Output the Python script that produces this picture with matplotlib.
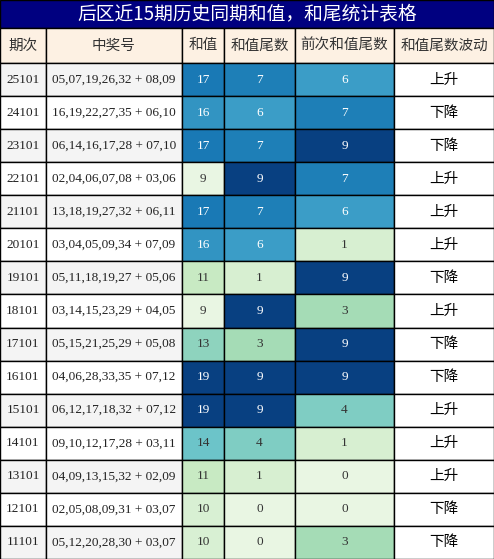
import matplotlib.pyplot as plt
from matplotlib.patches import Rectangle
from matplotlib import cm

periods = ["25101", "24101", "23101", "22101", "21101", "20101", "19101", "18101",
           "17101", "16101", "15101", "14101", "13101", "12101", "11101"]
numbers = ["05,07,19,26,32 + 08,09", "16,19,22,27,35 + 06,10", "06,14,16,17,28 + 07,10",
           "02,04,06,07,08 + 03,06", "13,18,19,27,32 + 06,11", "03,04,05,09,34 + 07,09",
           "05,11,18,19,27 + 05,06", "03,14,15,23,29 + 04,05", "05,15,21,25,29 + 05,08",
           "04,06,28,33,35 + 07,12", "06,12,17,18,32 + 07,12", "09,10,12,17,28 + 03,11",
           "04,09,13,15,32 + 02,09", "02,05,08,09,31 + 03,07", "05,12,20,28,30 + 03,07"]
sums = [17, 16, 17, 9, 17, 16, 11, 9, 13, 19, 19, 14, 11, 10, 10]
tails = [7, 6, 7, 9, 7, 6, 1, 9, 3, 9, 9, 4, 1, 0, 0]
prev_tails = [6, 7, 9, 7, 6, 1, 9, 3, 9, 9, 4, 1, 0, 0, 3]
trend = ["上升", "下降", "下降", "上升", "上升", "上升", "下降", "上升",
         "下降", "下降", "上升", "上升", "上升", "下降", "下降"]
headers = ["期次", "中奖号", "和值", "和值尾数", "前次和值尾数", "和值尾数波动"]
title = "后区近15期历史同期和值，和尾统计表格"

W, H = 494, 559
col_x = [0, 46, 182, 224, 295, 394, 494]
title_h, head_h = 28, 35
row_h = (H - title_h - head_h) / len(periods)

cjk = ["Noto Sans CJK SC", "DejaVu Sans"]
serif = ["Liberation Serif", "DejaVu Serif"]
cmap = cm.get_cmap("GnBu")

fig = plt.figure(figsize=(W / 100, H / 100), dpi=100)
ax = fig.add_axes([0, 0, 1, 1])
ax.set_xlim(0, W)
ax.set_ylim(H, 0)
ax.axis("off")

ax.add_patch(Rectangle((0, 0), W, title_h, facecolor="#000080", edgecolor="black", lw=1))
ax.text(W / 2, title_h / 2, title, color="white", fontsize=13.5, family=cjk,
        ha="center", va="center")

for i, h in enumerate(headers):
    x0, x1 = col_x[i], col_x[i + 1]
    ax.add_patch(Rectangle((x0, title_h), x1 - x0, head_h, facecolor="#fdf1e3",
                           edgecolor="black", lw=1))
    ax.text((x0 + x1) / 2, title_h + head_h / 2, h, fontsize=10.5, family=cjk,
            color="#333333", ha="center", va="center")


def shade(v, lo, hi):
    t = (v - lo) / (hi - lo) if hi > lo else 0
    return cmap(0.08 + 0.92 * t)


def text_color(c):
    r, g, b, _ = c
    return "white" if (0.299 * r + 0.587 * g + 0.114 * b) < 0.6 else "#333333"


for r in range(len(periods)):
    y0 = title_h + head_h + r * row_h
    yc = y0 + row_h / 2
    base = "#f4f4f4" if r % 2 == 0 else "white"
    cells = [
        (periods[r], base, serif, "#222222"),
        (numbers[r], base, serif, "#222222"),
    ]
    for val, lo, hi in [(sums[r], min(sums), max(sums)),
                        (tails[r], 0, 9), (prev_tails[r], 0, 9)]:
        c = shade(val, lo, hi)
        cells.append((str(val), c, serif, text_color(c)))
    cells.append((trend[r], "white", cjk, "black"))
    for i, (txt, fc, fam, tc) in enumerate(cells):
        x0, x1 = col_x[i], col_x[i + 1]
        ax.add_patch(Rectangle((x0, y0), x1 - x0, row_h, facecolor=fc,
                               edgecolor="black", lw=1))
        ax.text((x0 + x1) / 2, yc, txt, fontsize=9.5 if i != 5 else 10.5,
                family=fam, color=tc, ha="center", va="center")

fig.savefig("out.png", dpi=100)
